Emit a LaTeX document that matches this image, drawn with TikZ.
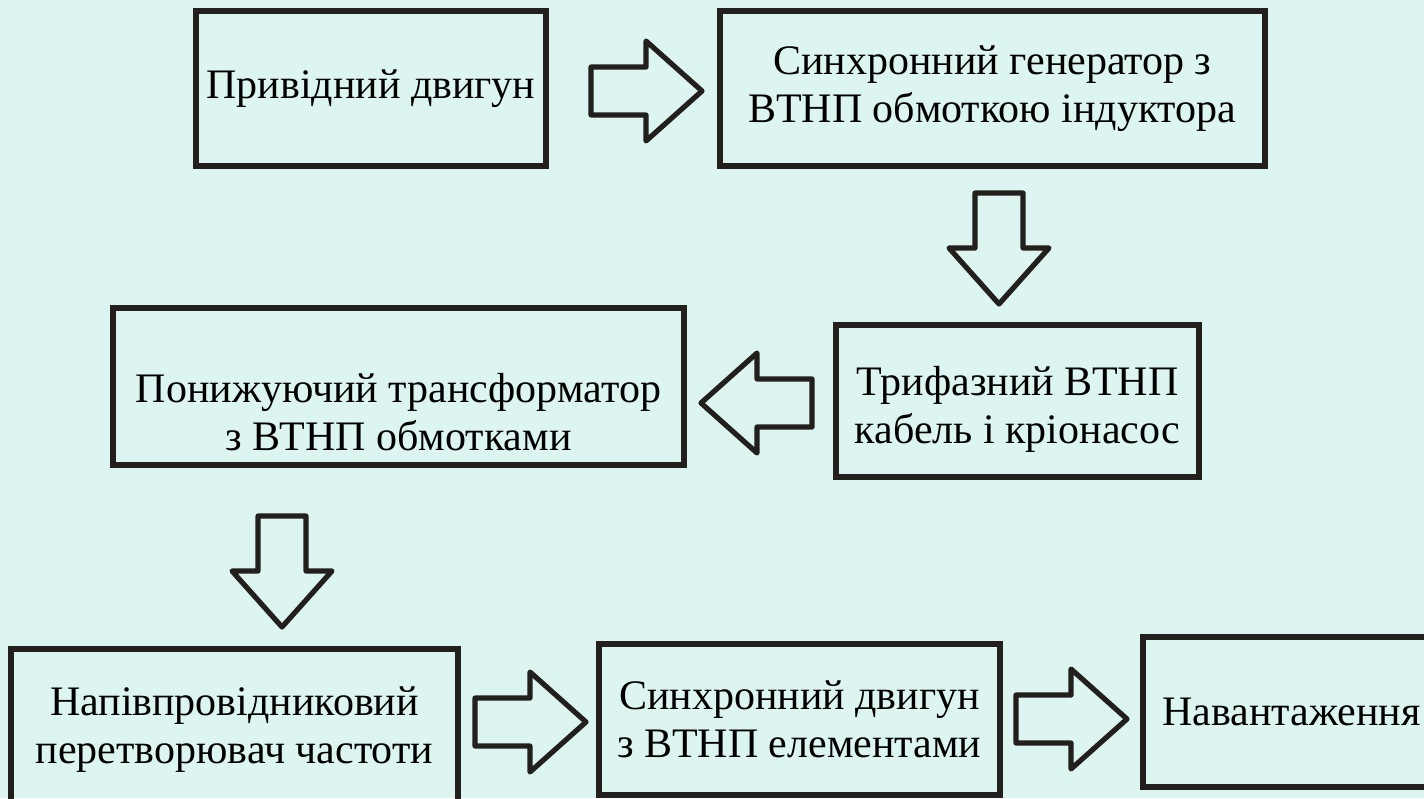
\documentclass[tikz,border=0pt]{standalone}
\usepackage{fontspec}
\setmainfont{Liberation Serif}
\usepackage{tikz}
\definecolor{bg-cyan}{RGB}{220,245,241}
\definecolor{ink-dark}{RGB}{35,31,28}
\begin{document}
\begin{tikzpicture}[x=0.5pt, y=-0.5pt,
    boxtext/.style={align=center, inner sep=0pt, font=\fontsize{21}{24}\selectfont},
    unitbox/.style={boxtext, draw=ink-dark, line width=2.8pt, rectangle},
    hollow/.style={draw=ink-dark, line width=2.6pt, line join=round},
    fatarrow/.pic={\draw[hollow] (-55,-24) -- (0,-24) -- (0,-50) -- (56,0)
        -- (0,50) -- (0,24) -- (-55,24) -- cycle;}]
    \path[use as bounding box, fill=bg-cyan] (0,0) rectangle (1424,798);
    \clip (0,0) rectangle (1424,798);
    \node[unitbox, minimum width=175pt, minimum height=77.5pt] (drive) at (371,88.5) {Привідний двигун};
    \node[unitbox, minimum width=272.5pt, minimum height=77.5pt] (gen) at (992.5,88.5) {Синхронний генератор з\\ВТНП обмоткою індуктора};
    \node[unitbox, minimum width=181.5pt, minimum height=76pt] (cable) at (1017.5,401) {};
    \node[boxtext] (cabletext) at (1017.5,409) {Трифазний ВТНП\\кабель і кріонасос};
    \node[unitbox, minimum width=285.5pt, minimum height=78.5pt] (xfmr) at (398.5,386.5) {};
    \node[boxtext] (xfmrtext) at (398.5,412) {Понижуючий трансформатор\\з ВТНП обмотками};
    \node[unitbox, minimum width=223.5pt, minimum height=80.5pt] (conv) at (234.5,729.5) {Напівпровідниковий\\перетворювач частоти};
    \node[unitbox, minimum width=200.5pt, minimum height=75.5pt] (motor) at (799.5,719.5) {Синхронний двигун\\з ВТНП елементами};
    \node[unitbox, minimum width=148.5pt, minimum height=75pt] (load) at (1291.5,712) {Навантаження};
    \pic at (646,91) {fatarrow};
    \pic[rotate=-90] at (999,248) {fatarrow};
    \pic[rotate=180] at (757,403) {fatarrow};
    \pic[rotate=-90] at (282,571) {fatarrow};
    \pic at (530,722) {fatarrow};
    \pic at (1071,719) {fatarrow};
\end{tikzpicture}
\end{document}
